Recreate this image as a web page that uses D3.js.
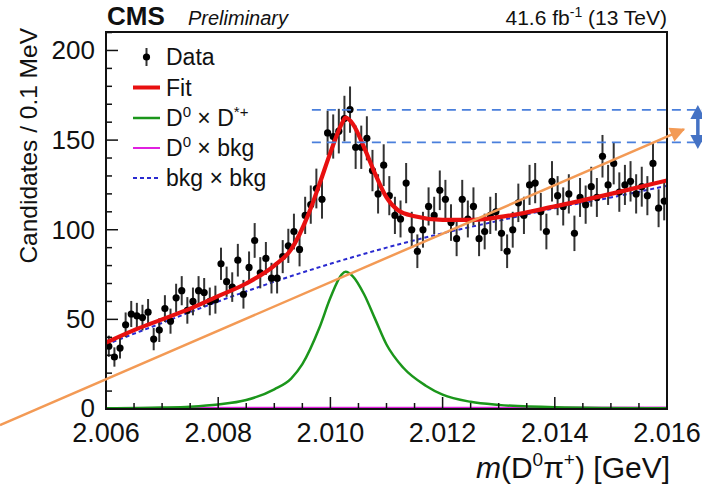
<!DOCTYPE html>
<html>
<head>
<meta charset="utf-8">
<script src="https://cdn.jsdelivr.net/npm/d3@7"></script>
<style>
  body { margin: 0; background: #fff; }
  svg text { font-family: "Liberation Sans", Arial, sans-serif; fill: #111; }
</style>
</head>
<body>
<div id="chart"></div>
<script>
// binning of the histogram (0.1 MeV bins)
const massLow = 2.006;
const binWidth = 0.0001;
const counts = [
    35, 29, 34, 47, 53, 52, 51, 54, 39, 44,
    56, 49, 62, 66, 55, 60, 66, 65, 60, 61,
    81, 71, 68, 83, 64, 79, 94, 76, 84, 73,
    73, 85, 91, 99, 89, 108, 114, 123, 117, 154,
    152, 155, 162, 167, 146, 146, 151, 133, 120, 136,
    119, 108, 106, 126, 100, 88, 100, 113, 108, 122,
    117, 104, 95, 117, 106, 113, 95, 99, 108, 110,
    98, 88, 100, 115, 108, 125, 126, 110, 99, 127,
    119, 113, 120, 98, 118, 114, 124, 118, 141, 125,
    137, 121, 125, 127, 120, 124, 119, 137, 112, 116
];

// curves: [mass, candidates]
const fitCurve = [
    [2.006, 37], [2.0065, 44], [2.007, 50], [2.0075, 56], [2.008, 63], [2.0085, 70],
    [2.009, 80], [2.0093, 89], [2.0096, 108], [2.0098, 125], [2.0100, 143], [2.0102, 159],
    [2.01027, 162.5], [2.0104, 159], [2.0106, 146], [2.0108, 131], [2.0110, 118],
    [2.0112, 111], [2.0115, 107.5], [2.012, 105.5], [2.0125, 105.5], [2.013, 107],
    [2.014, 113], [2.015, 120], [2.016, 127.5]
];
const signalCurve = [
    [2.006, 0.4], [2.007, 0.8], [2.0075, 1.3], [2.008, 2.5], [2.0085, 5], [2.009, 11],
    [2.0093, 17], [2.0095, 25], [2.0098, 45], [2.0100, 62], [2.0102, 75], [2.01027, 76.5],
    [2.0104, 74], [2.0106, 64], [2.0108, 50], [2.0110, 36], [2.0113, 23], [2.0117, 13],
    [2.012, 8], [2.0125, 4], [2.013, 2.3], [2.014, 1], [2.016, 0.4]
];
const d0BkgCurve = [[2.006, 0.6], [2.011, 0.7], [2.016, 0.8]];
const bkgBkgCurve = [
    [2.006, 36], [2.007, 48], [2.008, 60], [2.009, 71], [2.010, 81], [2.011, 90],
    [2.012, 98], [2.013, 105], [2.014, 112], [2.015, 118], [2.016, 124.5]
];

// annotation overlays (mass, candidates)
const dashLevels = [166.9, 148.7];
const dashRange = [2.00967, 2.01665];
const doubleArrow = { x: 2.01655, top: 169.6, bottom: 145 };
const orangeArrow = [[2.00411, -9], [2.0163, 156]];

const xTicks = [2.006, 2.008, 2.010, 2.012, 2.014, 2.016];
const yTicks = [0, 50, 100, 150, 200];

const margin = { left: 106, right: 35, top: 32, bottom: 78 };
const W = 702, H = 487;
const width = W - margin.left - margin.right;
const height = H - margin.top - margin.bottom;

const svg = d3.select('#chart').append('svg')
    .attr('width', W).attr('height', H);

const x = d3.scaleLinear().domain([2.006, 2.016]).range([margin.left, margin.left + width]);
const y = d3.scaleLinear().domain([0, 210.3]).range([margin.top + height, margin.top]);

svg.append('clipPath').attr('id', 'plot')
    .append('rect')
    .attr('x', margin.left).attr('y', margin.top)
    .attr('width', width).attr('height', height);

const line = d3.line().x(d => x(d[0])).y(d => y(d[1])).curve(d3.curveMonotoneX);
const g = svg.append('g').attr('clip-path', 'url(#plot)');

// curves
g.append('path').datum(d0BkgCurve)
    .attr('fill', 'none').attr('stroke', '#e020e0').attr('stroke-width', 2)
    .attr('d', line);
g.append('path').datum(bkgBkgCurve)
    .attr('fill', 'none').attr('stroke', '#2a2ad0').attr('stroke-width', 2)
    .attr('stroke-dasharray', '4,3')
    .attr('d', line);
g.append('path').datum(signalCurve)
    .attr('fill', 'none').attr('stroke', '#1b961b').attr('stroke-width', 2.5)
    .attr('d', line);

// data points with poisson error bars
const pts = g.selectAll('.pt').data(counts).enter().append('g').attr('class', 'pt');
pts.append('line')
    .attr('x1', (d, i) => x(massLow + binWidth * (i + 0.5)))
    .attr('x2', (d, i) => x(massLow + binWidth * (i + 0.5)))
    .attr('y1', d => y(d + Math.sqrt(d)))
    .attr('y2', d => y(d - Math.sqrt(d)))
    .attr('stroke', '#333').attr('stroke-width', 2);
pts.append('circle')
    .attr('cx', (d, i) => x(massLow + binWidth * (i + 0.5)))
    .attr('cy', d => y(d))
    .attr('r', 3.6).attr('fill', '#000');

g.append('path').datum(fitCurve)
    .attr('fill', 'none').attr('stroke', '#e81010').attr('stroke-width', 4.2)
    .attr('d', line);

// frame
svg.append('rect')
    .attr('x', margin.left).attr('y', margin.top)
    .attr('width', width).attr('height', height)
    .attr('fill', 'none').attr('stroke', '#111').attr('stroke-width', 2);

// y axis ticks
const yMinor = d3.range(0, 211, 10);
svg.selectAll('.ytick').data(yMinor).enter().append('line')
    .attr('x1', margin.left)
    .attr('x2', d => margin.left + (d % 50 === 0 ? 12 : 6))
    .attr('y1', d => y(d)).attr('y2', d => y(d))
    .attr('stroke', '#111').attr('stroke-width', 1.5);
svg.selectAll('.ylab').data(yTicks).enter().append('text')
    .attr('x', 95).attr('y', d => y(d) + (d === 0 ? 8 : 9))
    .attr('text-anchor', 'end').attr('font-size', 26)
    .text(d => d);

// x axis ticks
const xMinor = d3.range(0, 21).map(i => 2.006 + i * 0.0005);
svg.selectAll('.xtick').data(xMinor).enter().append('line')
    .attr('x1', d => x(d)).attr('x2', d => x(d))
    .attr('y1', y(0))
    .attr('y2', (d, i) => y(0) - (i % 4 === 0 ? 12 : 6))
    .attr('stroke', '#111').attr('stroke-width', 1.5);
svg.selectAll('.xlab').data(xTicks).enter().append('text')
    .attr('x', d => x(d)).attr('y', 442)
    .attr('text-anchor', 'middle').attr('font-size', 27)
    .text(d => d.toFixed(3));

// axis titles
const xt = svg.append('text')
    .attr('x', 670).attr('y', 478)
    .attr('text-anchor', 'end').attr('font-size', 30);
xt.append('tspan').attr('font-style', 'italic').text('m');
xt.append('tspan').text('(D');
xt.append('tspan').attr('font-size', 19).attr('dy', -12).text('0');
xt.append('tspan').attr('dy', 12).text('π');
xt.append('tspan').attr('font-size', 19).attr('dy', -12).text('+');
xt.append('tspan').attr('dy', 12).text(') [GeV]');

svg.append('text')
    .attr('transform', 'translate(37,28) rotate(-90)')
    .attr('text-anchor', 'end').attr('font-size', 24.5)
    .text('Candidates / 0.1 MeV');

// header
svg.append('text').attr('x', 107).attr('y', 25)
    .attr('font-size', 26).attr('font-weight', 'bold').text('CMS');
svg.append('text').attr('x', 188).attr('y', 25)
    .attr('font-size', 20).attr('font-style', 'italic').text('Preliminary');
const lumi = svg.append('text').attr('x', 667).attr('y', 25)
    .attr('text-anchor', 'end').attr('font-size', 21);
lumi.append('tspan').text('41.6 fb');
lumi.append('tspan').attr('font-size', 14).attr('dy', -8).text('-1');
lumi.append('tspan').attr('dy', 8).text(' (13 TeV)');

// legend
const legendY = [57, 87.5, 118, 148, 178];
const lx0 = 133, lx1 = 160, tx = 166;
svg.append('line').attr('x1', 146.5).attr('x2', 146.5)
    .attr('y1', legendY[0] - 9).attr('y2', legendY[0] + 9)
    .attr('stroke', '#333').attr('stroke-width', 2);
svg.append('circle').attr('cx', 146.5).attr('cy', legendY[0]).attr('r', 3.6).attr('fill', '#000');
const legendLines = [
    { i: 1, color: '#e81010', w: 4, dash: null },
    { i: 2, color: '#1b961b', w: 2.5, dash: null },
    { i: 3, color: '#e020e0', w: 2, dash: null },
    { i: 4, color: '#2a2ad0', w: 2, dash: '4,3' }
];
legendLines.forEach(l => {
    svg.append('line')
        .attr('x1', lx0).attr('x2', lx1)
        .attr('y1', legendY[l.i]).attr('y2', legendY[l.i])
        .attr('stroke', l.color).attr('stroke-width', l.w)
        .attr('stroke-dasharray', l.dash);
});
const legText = i => svg.append('text').attr('x', tx).attr('y', legendY[i] + 8).attr('font-size', 23);
legText(0).text('Data');
legText(1).text('Fit');
const t2 = legText(2);
t2.append('tspan').text('D');
t2.append('tspan').attr('font-size', 15).attr('dy', -9).text('0');
t2.append('tspan').attr('dy', 9).text(' × D');
t2.append('tspan').attr('font-size', 15).attr('dy', -9).text('*+');
const t3 = legText(3);
t3.append('tspan').text('D');
t3.append('tspan').attr('font-size', 15).attr('dy', -9).text('0');
t3.append('tspan').attr('dy', 9).text(' × bkg');
legText(4).text('bkg × bkg');

// annotations
svg.selectAll('.lvl').data(dashLevels).enter().append('line')
    .attr('x1', x(dashRange[0])).attr('x2', x(dashRange[1]))
    .attr('y1', d => y(d)).attr('y2', d => y(d))
    .attr('stroke', '#4a7fdc').attr('stroke-width', 1.8)
    .attr('stroke-dasharray', '9,6');

const defs = svg.append('defs');
defs.append('marker').attr('id', 'orangeHead')
    .attr('viewBox', '0 0 10 10').attr('refX', 9).attr('refY', 5)
    .attr('markerWidth', 7).attr('markerHeight', 6).attr('orient', 'auto')
    .attr('markerUnits', 'strokeWidth')
    .append('path').attr('d', 'M0,0L10,5L0,10z').attr('fill', '#f39a55');
svg.append('line')
    .attr('x1', x(orangeArrow[0][0])).attr('y1', y(orangeArrow[0][1]))
    .attr('x2', x(orangeArrow[1][0])).attr('y2', y(orangeArrow[1][1]))
    .attr('stroke', '#f39a55').attr('stroke-width', 2.5)
    .attr('marker-end', 'url(#orangeHead)');

const ax = x(doubleArrow.x), aTop = y(doubleArrow.top), aBot = y(doubleArrow.bottom);
svg.append('line').attr('x1', ax).attr('x2', ax)
    .attr('y1', aTop + 10).attr('y2', aBot - 10)
    .attr('stroke', '#4472c4').attr('stroke-width', 3.5);
svg.append('path')
    .attr('d', `M${ax},${aTop}L${ax - 7.5},${aTop + 14}L${ax + 7.5},${aTop + 14}Z`)
    .attr('fill', '#4472c4');
svg.append('path')
    .attr('d', `M${ax},${aBot}L${ax - 7.5},${aBot - 14}L${ax + 7.5},${aBot - 14}Z`)
    .attr('fill', '#4472c4');
</script>
</body>
</html>
